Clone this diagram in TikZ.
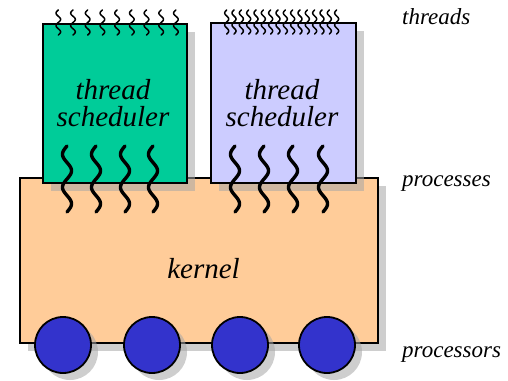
\documentclass[tikz,border=0pt]{standalone}
\usepackage{fontspec}
\setmainfont{Liberation Serif}
\definecolor{schedgreen}{RGB}{0,204,153}
\definecolor{schedlilac}{RGB}{204,204,255}
\definecolor{kernelfill}{RGB}{255,204,153}
\definecolor{cpublue}{RGB}{51,51,204}
\tikzset{
  block/.style={draw=black, line width=1.8pt},
  shade box/.style={fill=black!35, opacity=0.55},
  bigthread/.style={line width=3.4pt, line cap=round, line join=round},
  smallthread/.style={line width=1.5pt, line cap=round, line join=round},
  cpu/.style={circle, draw=black, line width=1.8pt, fill=cpublue, minimum size=56pt, inner sep=0pt},
  cpushade/.style={circle, fill=black!35, opacity=0.55, minimum size=56pt, inner sep=0pt},
  boxtext/.style={font=\fontsize{29}{27}\selectfont\itshape, align=center},
  sidelabel/.style={font=\fontsize{23}{23}\selectfont\itshape, anchor=base west, inner sep=0pt}
}
\begin{document}
\begin{tikzpicture}[x=1pt,y=-1pt]
\useasboundingbox (0,0) rectangle (508,380);

% kernel with its drop shadow
\fill[shade box] (28,186) rectangle (386,351);
\draw[block, fill=kernelfill] (20,178) rectangle (378,343);
\node[boxtext] (kernel) at (203.5,269) {kernel};

% thread scheduler boxes with drop shadows
\fill[shade box] (51,32) rectangle (195,191);
\fill[shade box] (219,31) rectangle (364,191);
\draw[block, fill=schedgreen] (43,24) rectangle (187,183);
\draw[block, fill=schedlilac] (211,23) rectangle (356,183);
\node[boxtext] (schedA) at (113,103) {thread\\scheduler};
\node[boxtext] (schedB) at (282,103) {thread\\scheduler};

% processes: heavy threads crossing from scheduler into kernel
\foreach \xa in {67,96,125,153,235,264,293,323}
  \draw[bigthread] plot[domain=0:66, samples=80, smooth] ({\xa - 4.5*sin(10.909*\x)}, {146+\x});

% user threads on top of each scheduler
\foreach \i in {0,...,8}
  \draw[smallthread] plot[domain=0:25, samples=50, smooth] ({58.3+14.7*\i - 2.3*sin(28.8*\x)}, {10+\x});
\foreach \i in {0,...,15}
  \draw[smallthread] plot[domain=0:24, samples=50, smooth] ({226.7+7.33*\i - 2.0*sin(30*\x)}, {10+\x});

% processors
\foreach \cx [count=\n] in {63,152,240,327} {
  \node[cpushade] at (\cx+7,345+7) {};
  \node[cpu] (cpu\n) at (\cx,345) {};
}

% side labels
\node[sidelabel] (lthreads) at (402,24) {threads};
\node[sidelabel] (lprocs) at (402,186) {processes};
\node[sidelabel] (lcpus) at (402,357) {processors};
\end{tikzpicture}
\end{document}
